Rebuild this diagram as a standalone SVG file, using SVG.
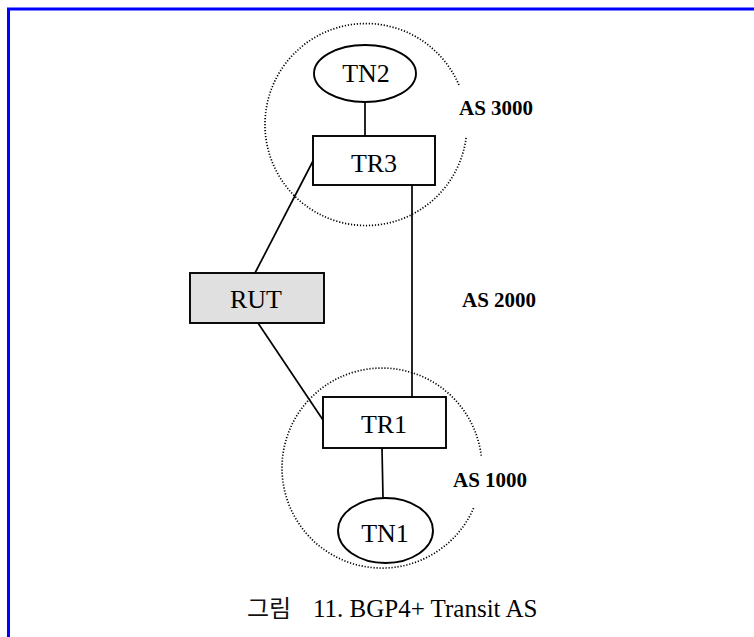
<svg xmlns="http://www.w3.org/2000/svg" width="754" height="637" viewBox="0 0 754 637">
<style>
.frame{fill:none;stroke:#0000ff;stroke-width:3}
.zone{fill:none;stroke:#000;stroke-width:1.7;stroke-dasharray:1.2 1.8}
.box{fill:#fff;stroke:#000;stroke-width:1.9}
.gray{fill:#e0e0e0}
.link{stroke:#000;stroke-width:1.7;fill:none}
.lbl{font-size:26px;fill:#000;text-anchor:middle}
.as{font-size:21px;font-weight:bold;fill:#000}
.cap{font-size:25px;fill:#000}
.ko{font-size:24px;fill:#111}
</style>
<rect class="frame" x="8.5" y="9" width="800" height="700"/>
<g id="as3000">
<path class="zone" d="M466.1,137.9 A101,101 0 1 1 459.1,85.4"/>
<text class="as" font-family="'Liberation Serif', 'DejaVu Serif', serif" x="459" y="115">AS 3000</text>
</g>
<g id="as1000">
<path class="zone" d="M473.6,508.2 A100,100 0 1 1 481.4,457"/>
<text class="as" font-family="'Liberation Serif', 'DejaVu Serif', serif" x="453" y="487">AS 1000</text>
</g>
<g id="as2000">
<text class="as" font-family="'Liberation Serif', 'DejaVu Serif', serif" x="462" y="307">AS 2000</text>
</g>
<g id="connectors">
<line class="link" x1="365" y1="102" x2="365" y2="136"/>
<line class="link" x1="313" y1="161" x2="255" y2="273"/>
<line class="link" x1="258" y1="323" x2="323" y2="420"/>
<line class="link" x1="412" y1="185" x2="412" y2="397"/>
<line class="link" x1="382" y1="448" x2="383" y2="498"/>
</g>
<g id="TN2">
<ellipse class="box" cx="365" cy="73.5" rx="51" ry="28.5"/>
<text class="lbl" font-family="'Liberation Serif', 'DejaVu Serif', serif" x="366" y="82">TN2</text>
</g>
<g id="TR3">
<rect class="box" x="313" y="136" width="122" height="49"/>
<text class="lbl" font-family="'Liberation Serif', 'DejaVu Serif', serif" x="374" y="172">TR3</text>
</g>
<g id="RUT">
<rect class="box gray" x="190" y="273" width="134" height="50"/>
<text class="lbl" font-family="'Liberation Serif', 'DejaVu Serif', serif" x="256" y="308">RUT</text>
</g>
<g id="TR1">
<rect class="box" x="323" y="397" width="123" height="51"/>
<text class="lbl" font-family="'Liberation Serif', 'DejaVu Serif', serif" x="384" y="433">TR1</text>
</g>
<g id="TN1">
<ellipse class="box" cx="385.5" cy="530.5" rx="47.5" ry="32.5"/>
<text class="lbl" font-family="'Liberation Serif', 'DejaVu Serif', serif" x="385" y="542">TN1</text>
</g>
<g id="caption">
<text class="cap" font-family="'Liberation Serif', 'DejaVu Serif', serif" y="617"><tspan class="ko" font-family="'Noto Sans CJK KR', sans-serif" x="247">그림</tspan><tspan x="313">11. BGP4+ Transit AS</tspan></text>
</g>
</svg>
